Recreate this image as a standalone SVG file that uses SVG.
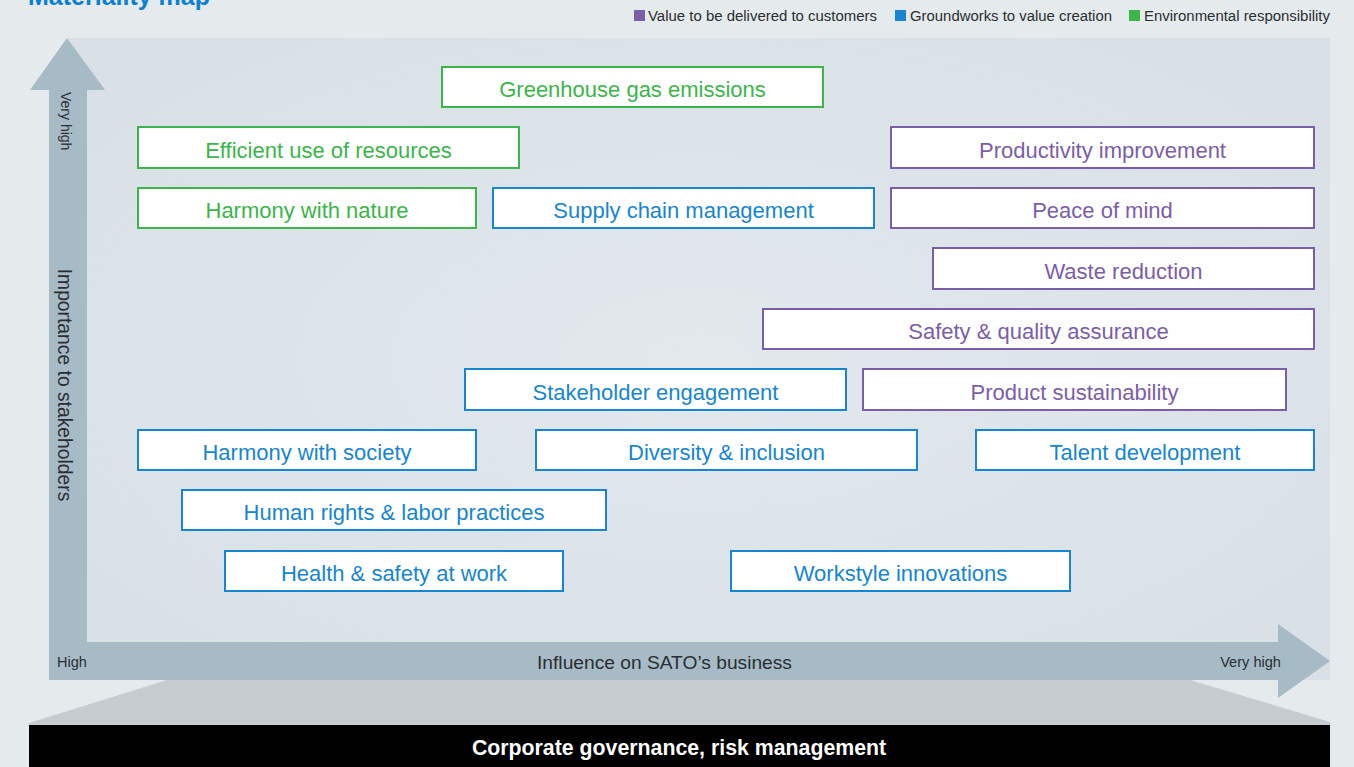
<svg xmlns="http://www.w3.org/2000/svg" width="1354" height="767" viewBox="0 0 1354 767">
  <defs>
    <radialGradient id="panelGrad" cx="0.5" cy="0.5" r="0.6">
      <stop offset="0" stop-color="#e2e8ec"/>
      <stop offset="1" stop-color="#d9e1e7"/>
    </radialGradient>
  </defs>
  <style>
    .box { fill: #ffffff; stroke-width: 2; }
    .env rect { stroke: #3cb54b; }
    .env text { fill: #3cb54b; }
    .grd rect { stroke: #1785d0; }
    .grd text { fill: #1785d0; }
    .val rect { stroke: #7b5ea8; }
    .val text { fill: #7b5ea8; }
    .lbl { font-family: "Liberation Sans", Arial, sans-serif; font-size: 22px; text-anchor: middle; }
    .axis { font-family: "Liberation Sans", Arial, sans-serif; fill: #2a2e31; }
    .legend { font-family: "Liberation Sans", Arial, sans-serif; font-size: 14px; fill: #2a2e31; }
  </style>

  <!-- page background -->
  <rect x="0" y="0" width="1354" height="767" fill="#e5eaed"/>

  <!-- title (top edge) -->
  <text x="28" y="5" font-family="Liberation Sans, Arial, sans-serif" font-weight="bold" font-size="25" fill="#0b7fd0">Materiality map</text>

  <!-- legend -->
  <g id="legend">
    <rect x="634" y="10" width="11" height="11" fill="#7b5ea8"/>
    <text class="legend" x="648" y="20.5" textLength="229" lengthAdjust="spacingAndGlyphs">Value to be delivered to customers</text>
    <rect x="895" y="10" width="11" height="11" fill="#1785d0"/>
    <text class="legend" x="910" y="20.5" textLength="202" lengthAdjust="spacingAndGlyphs">Groundworks to value creation</text>
    <rect x="1129" y="10" width="11" height="11" fill="#3cb54b"/>
    <text class="legend" x="1144" y="20.5" textLength="186" lengthAdjust="spacingAndGlyphs">Environmental responsibility</text>
  </g>

  <!-- chart panel -->
  <rect x="67" y="38" width="1263" height="642" fill="url(#panelGrad)"/>

  <!-- foundation band -->
  <polygon points="167,680 1190,680 1330,722 1330,725 29,725 29,723" fill="#c7ccd0"/>
  <rect x="29" y="725" width="1301" height="42" fill="#000000"/>
  <text x="679" y="755" font-family="Liberation Sans, Arial, sans-serif" font-weight="bold" font-size="21.3" fill="#ffffff" text-anchor="middle">Corporate governance, risk management</text>

  <!-- axes -->
  <g id="axes" fill="#a7bbc6">
    <rect x="49" y="89" width="38" height="591"/>
    <polygon points="30,90 67,38 105,90"/>
    <rect x="49" y="642" width="1230" height="38"/>
    <polygon points="1278,624 1330,661 1278,698"/>
  </g>
  <text class="axis" font-size="14" transform="translate(61,92) rotate(90)">Very high</text>
  <text class="axis" font-size="19.3" text-anchor="middle" transform="translate(58,385) rotate(90)">Importance to stakeholders</text>
  <text class="axis" font-size="14.5" x="57" y="667">High</text>
  <text class="axis" font-size="19.2" x="664.5" y="669" text-anchor="middle">Influence on SATO’s business</text>
  <text class="axis" font-size="14.6" x="1281" y="667" text-anchor="end">Very high</text>

  <!-- materiality items -->
  <g id="n-ghg" class="env"><rect class="box" x="442" y="67" width="381" height="40"/><text class="lbl" x="632.5" y="96.5">Greenhouse gas emissions</text></g>
  <g id="n-resources" class="env"><rect class="box" x="138" y="127" width="381" height="41"/><text class="lbl" x="328.5" y="158">Efficient use of resources</text></g>
  <g id="n-productivity" class="val"><rect class="box" x="891" y="127" width="423" height="41"/><text class="lbl" x="1102.5" y="158">Productivity improvement</text></g>
  <g id="n-nature" class="env"><rect class="box" x="138" y="188" width="338" height="40"/><text class="lbl" x="307" y="218">Harmony with nature</text></g>
  <g id="n-supply" class="grd"><rect class="box" x="493" y="188" width="381" height="40"/><text class="lbl" x="683.5" y="218">Supply chain management</text></g>
  <g id="n-peace" class="val"><rect class="box" x="891" y="188" width="423" height="40"/><text class="lbl" x="1102.5" y="218">Peace of mind</text></g>
  <g id="n-waste" class="val"><rect class="box" x="933" y="248" width="381" height="41"/><text class="lbl" x="1123.5" y="279">Waste reduction</text></g>
  <g id="n-safety" class="val"><rect class="box" x="763" y="309" width="551" height="40"/><text class="lbl" x="1038.5" y="339">Safety &amp; quality assurance</text></g>
  <g id="n-stakeholder" class="grd"><rect class="box" x="465" y="369" width="381" height="41"/><text class="lbl" x="655.5" y="400">Stakeholder engagement</text></g>
  <g id="n-product" class="val"><rect class="box" x="863" y="369" width="423" height="41"/><text class="lbl" x="1074.5" y="400">Product sustainability</text></g>
  <g id="n-society" class="grd"><rect class="box" x="138" y="430" width="338" height="40"/><text class="lbl" x="307" y="460">Harmony with society</text></g>
  <g id="n-diversity" class="grd"><rect class="box" x="536" y="430" width="381" height="40"/><text class="lbl" x="726.5" y="460">Diversity &amp; inclusion</text></g>
  <g id="n-talent" class="grd"><rect class="box" x="976" y="430" width="338" height="40"/><text class="lbl" x="1145" y="460">Talent development</text></g>
  <g id="n-rights" class="grd"><rect class="box" x="182" y="490" width="424" height="40"/><text class="lbl" x="394" y="520">Human rights &amp; labor practices</text></g>
  <g id="n-health" class="grd"><rect class="box" x="225" y="551" width="338" height="40"/><text class="lbl" x="394" y="581">Health &amp; safety at work</text></g>
  <g id="n-workstyle" class="grd"><rect class="box" x="731" y="551" width="339" height="40"/><text class="lbl" x="900.5" y="581">Workstyle innovations</text></g>

  <!-- no connectors between items -->
  <g id="connectors"/>
</svg>
